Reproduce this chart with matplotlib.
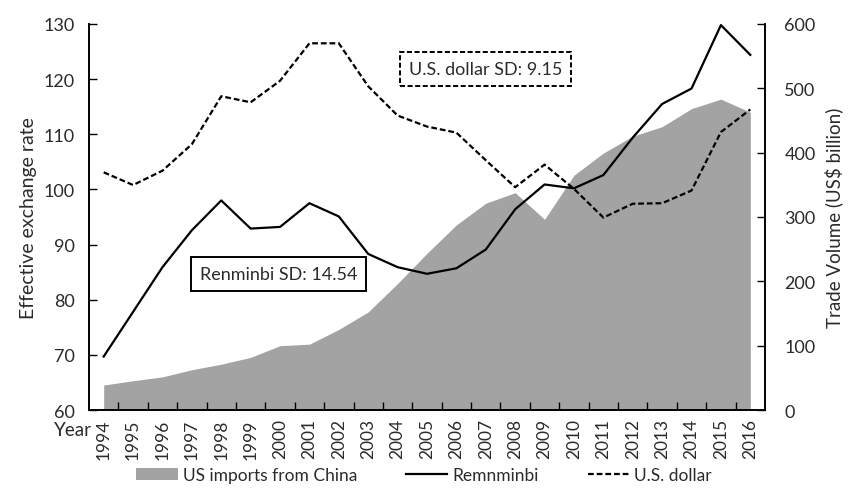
import numpy as np
import matplotlib
matplotlib.use("Agg")
import matplotlib.pyplot as plt
from matplotlib.patches import Patch
from matplotlib.lines import Line2D

plt.rcParams['font.family'] = ['Lato', 'DejaVu Sans']

years = list(range(1994, 2017))
renminbi = [69.7, 77.8, 85.9, 92.6, 98.0, 92.9, 93.2, 97.5, 95.1, 88.3, 85.9, 84.7, 85.7,
            89.1, 96.4, 100.9, 100.2, 102.6, 109.4, 115.5, 118.3, 129.8, 124.4]
usd = [103.1, 100.8, 103.4, 108.2, 116.9, 115.8, 119.7, 126.5, 126.5, 118.7, 113.4, 111.4, 110.3,
       105.3, 100.4, 104.5, 100.1, 94.9, 97.4, 97.5, 99.8, 110.4, 114.5]
imports = [38.8, 45.5, 51.5, 62.6, 71.2, 81.8, 100.0, 102.3, 125.2, 152.4, 196.7, 243.5, 287.8,
           321.4, 337.8, 296.4, 364.9, 399.4, 425.6, 440.4, 468.5, 483.2, 462.8]

TXT = '#2b2b2b'
DASH = (0, (2.6, 1.3))
x = np.arange(len(years))

fig = plt.figure(figsize=(8.48, 4.89), dpi=100)
ax = fig.add_axes([89 / 848, 1 - 411 / 489, (765 - 89) / 848, (411 - 25) / 489])
ax2 = ax.twinx()

ax2.fill_between(x, 0, imports, color='#a3a3a3', linewidth=0, zorder=1)
ax2.set_ylim(0, 600)
ax2.set_yticks(range(0, 601, 100))

ax.set_zorder(ax2.get_zorder() + 1)
ax.patch.set_visible(False)
ax.plot(x, renminbi, color='black', lw=1.6, zorder=3)
ax.plot(x, usd, color='black', lw=1.6, ls=DASH, zorder=3)
ax.set_ylim(60, 130)
ax.set_yticks(range(60, 131, 10))
ax.set_xlim(-0.5, len(years) - 0.5)

ax.set_xticks(x)
ax.set_xticklabels([str(y) for y in years], rotation=90, fontsize=12.5, color=TXT)
ax.tick_params(axis='x', which='major', length=0, pad=6)
ax.set_xticks(np.arange(0.5, len(years) - 1, 1), minor=True)
ax.tick_params(axis='x', which='minor', direction='in', length=6, width=1)
ax.tick_params(axis='y', direction='in', length=6, width=1, labelsize=13, labelcolor=TXT, pad=10)
ax2.tick_params(axis='y', direction='in', length=6, width=1, labelsize=13, labelcolor=TXT, pad=14)

for a in (ax, ax2):
    a.spines['top'].set_visible(False)
    for s in ('left', 'right', 'bottom'):
        a.spines[s].set_linewidth(1.2)

ax.set_ylabel('Effective exchange rate', fontsize=14, color=TXT, labelpad=5)
ax2.set_ylabel('Trade Volume (US$ billion)', fontsize=13.5, color=TXT, labelpad=6)
fig.text(92 / 848, 1 - 431 / 489, 'Year', fontsize=13.5, color=TXT, ha='right', va='center')

ax.text(13.0, 121.9, 'U.S. dollar SD: 9.15', fontsize=13, color=TXT, ha='center', va='center', zorder=5,
        bbox=dict(boxstyle='square,pad=0.5', fc='white', ec='black', lw=1.4, ls=DASH))
ax.text(5.95, 84.6, 'Renminbi SD: 14.54', fontsize=13, color=TXT, ha='center', va='center', zorder=5,
        bbox=dict(boxstyle='square,pad=0.5', fc='white', ec='black', lw=1.4))

handles = [Patch(facecolor='#a3a3a3', edgecolor='none'),
           Line2D([], [], color='black', lw=1.6),
           Line2D([], [], color='black', lw=1.6, ls=DASH)]
labels = ['US imports from China', 'Remnminbi', 'U.S. dollar']
fig.legend(handles, labels, loc='center', bbox_to_anchor=(0.5, 1 - 476 / 489), ncol=3,
           frameon=False, fontsize=12.5, labelcolor=TXT, handlelength=2.4, handletextpad=0.3,
           columnspacing=2.8)

fig.savefig('out.png', dpi=100)
